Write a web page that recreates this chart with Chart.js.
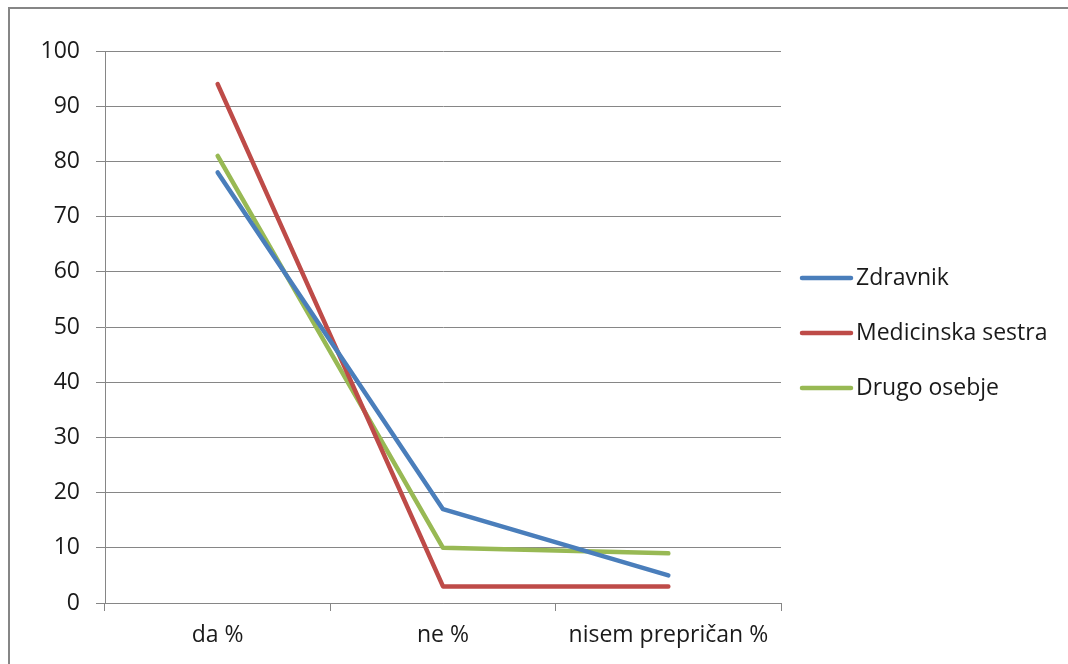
<!DOCTYPE html>
<html>
<head>
<meta charset="utf-8">
<script src="https://cdn.jsdelivr.net/npm/chart.js@4/dist/chart.umd.min.js"></script>
<style>
  html, body { margin: 0; padding: 0; background: #fff; }
  #wrap { width: 1068px; height: 664px; }
</style>
</head>
<body>
<div id="wrap"><canvas id="chart" width="1068" height="664"></canvas></div>
<script>
const categories = ["da %", "ne %", "nisem prepričan %"];
const zdravnik = [78, 17, 5];
const sestra = [94, 3, 3];
const drugo = [81, 10, 9];
const yTicks = [0, 10, 20, 30, 40, 50, 60, 70, 80, 90, 100];

const gray = "#868686";
const font = "'Open Sans'";
const fontSize = 23;

// outer frame like the Excel chart border
const frame = {
	id: "frame",
	beforeDraw(chart) {
		const ctx = chart.ctx;
		ctx.save();
		ctx.fillStyle = "#fff";
		ctx.fillRect(0, 0, chart.width, chart.height);
		ctx.strokeStyle = gray;
		ctx.lineWidth = 2;
		ctx.strokeRect(9, 8, 1200, 800);
		ctx.restore();
	}
};

// legend drawn on the right, one row per dataset
const sideLegend = {
	id: "sideLegend",
	afterDraw(chart) {
		const ctx = chart.ctx;
		ctx.save();
		chart.data.datasets.forEach((ds, i) => {
			const y = 278 + i * 55;
			ctx.strokeStyle = ds.borderColor;
			ctx.lineWidth = 4.5;
			ctx.lineCap = "round";
			ctx.beginPath();
			ctx.moveTo(802, y);
			ctx.lineTo(851, y);
			ctx.stroke();
			ctx.fillStyle = "#1a1a1a";
			ctx.font = fontSize + "px " + font;
			ctx.textAlign = "left";
			ctx.textBaseline = "middle";
			ctx.fillText(ds.label, 856, y);
		});
		ctx.restore();
	}
};

function line(label, data, color) {
	return {
		label: label,
		data: data,
		borderColor: color,
		backgroundColor: color,
		borderWidth: 4.5,
		borderCapStyle: "round",
		borderJoinStyle: "round",
		pointRadius: 0,
		tension: 0,
		fill: false
	};
}

new Chart(document.getElementById("chart"), {
	type: "line",
	data: {
		labels: categories,
		datasets: [
			line("Zdravnik", zdravnik, "#4a7ebb"),
			line("Medicinska sestra", sestra, "#be4b48"),
			line("Drugo osebje", drugo, "#98b954")
		]
	},
	options: {
		responsive: false,
		animation: false,
		layout: { padding: { left: 0, top: 51, right: 287, bottom: 0 } },
		plugins: {
			legend: { display: false },
			tooltip: { enabled: false }
		},
		scales: {
			x: {
				offset: true,
				grid: {
					offset: true,
					drawOnChartArea: false,
					drawTicks: true,
					tickLength: 8,
					color: gray
				},
				border: { color: gray, width: 1 },
				ticks: {
					color: "#1a1a1a",
					font: { family: font, size: fontSize },
					padding: 11,
					maxRotation: 0
				},
				afterFit(scale) { scale.height = 61; }
			},
			y: {
				min: 0,
				max: 100,
				afterBuildTicks(scale) {
					scale.ticks = yTicks.map(v => ({ value: v }));
				},
				grid: {
					color: gray,
					tickLength: 9,
					drawTicks: true
				},
				border: { color: gray, width: 1 },
				ticks: {
					color: "#1a1a1a",
					font: { family: font, size: fontSize },
					padding: 16
				},
				afterFit(scale) { scale.width = 105; }
			}
		}
	},
	plugins: [frame, sideLegend]
});
</script>
</body>
</html>
